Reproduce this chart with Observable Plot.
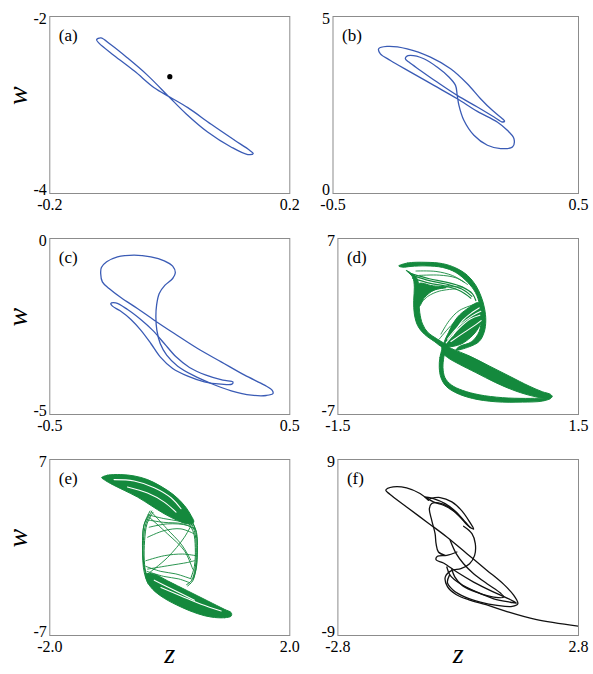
<!DOCTYPE html>
<html><head><meta charset="utf-8">
<script src="https://cdn.jsdelivr.net/npm/d3@7"></script>
<script src="https://cdn.jsdelivr.net/npm/@observablehq/plot@0.6"></script>
<style>
body{margin:0;background:#fff;}
#fig{position:relative;width:593px;height:674px;}
#fig > div{position:absolute;}
#fig svg, #fig svg text{font-family:"Liberation Serif","Times New Roman",Times,serif !important;}
#fig svg{overflow:visible;background:transparent;}
</style></head><body><div id="fig"></div>
<script>
// ---------- tick values and labels ----------
const aXTicks=[-0.2,0.2], aXLabels=["-0.2","0.2"], aYTicks=[-4,-2], aYLabels=["-4","-2"];
const bXTicks=[-0.5,0.5], bXLabels=["-0.5","0.5"], bYTicks=[0,5], bYLabels=["0","5"];
const cXTicks=[-0.5,0.5], cXLabels=["-0.5","0.5"], cYTicks=[-5,0], cYLabels=["-5","0"];
const dXTicks=[-1.5,1.5], dXLabels=["-1.5","1.5"], dYTicks=[-7,7], dYLabels=["-7","7"];
const eXTicks=[-2,2], eXLabels=["-2.0","2.0"], eYTicks=[-7,7], eYLabels=["-7","7"];
const fXTicks=[-2.8,2.8], fXLabels=["-2.8","2.8"], fYTicks=[-9,9], fYLabels=["-9","9"];
const panelTags=["(a)","(b)","(c)","(d)","(e)","(f)"];
const axisNames=["z","w"];

// ---------- (a) periodic orbit + fixed point ----------
const aLoop=[[-0.001,-2.910],[-0.037,-2.665],[-0.071,-2.466],[-0.098,-2.320],[-0.115,-2.241],[-0.122,-2.263],[-0.118,-2.301],[-0.093,-2.440],[-0.059,-2.617],[-0.026,-2.805],[0.000,-2.910],[0.030,-3.030],[0.069,-3.218],[0.108,-3.398],[0.133,-3.511],[0.139,-3.549],[0.130,-3.560],[0.102,-3.474],[0.063,-3.305],[0.027,-3.098]];
const aPoint=[[0.000,-2.68]];

// ---------- (b) ----------
const bLoop=[[-0.314,4.088],[-0.280,4.154],[-0.198,4.088],[-0.103,3.853],[-0.021,3.524],[0.047,3.101],[0.101,2.678],[0.149,2.349],[0.190,2.114],[0.199,2.048],[0.190,2.020],[0.156,2.161],[0.088,2.443],[0.006,2.772],[-0.076,3.148],[-0.144,3.477],[-0.191,3.712],[-0.205,3.806],[-0.201,3.872],[-0.184,3.900],[-0.130,3.806],[-0.076,3.571],[-0.028,3.289],[-0.001,3.054],[0.006,2.772],[0.013,2.490],[0.033,2.067],[0.074,1.644],[0.129,1.362],[0.183,1.268],[0.231,1.315],[0.237,1.550],[0.210,1.785],[0.169,2.020],[0.088,2.321],[0.006,2.678],[-0.089,3.054],[-0.184,3.430],[-0.266,3.759],[-0.307,3.947]];

// ---------- (c) ----------
const cOuter=[[-0.288,-0.994],[-0.281,-1.231],[-0.253,-1.420],[-0.204,-1.676],[-0.135,-1.989],[-0.065,-2.320],[0.019,-2.699],[0.116,-3.125],[0.214,-3.504],[0.312,-3.883],[0.395,-4.167],[0.426,-4.309],[0.430,-4.404],[0.402,-4.460],[0.340,-4.451],[0.256,-4.328],[0.172,-4.119],[0.096,-3.883],[0.033,-3.627],[-0.013,-3.314],[-0.040,-2.983],[-0.054,-2.604],[-0.058,-2.225],[-0.055,-1.894],[-0.044,-1.563],[-0.020,-1.326],[0.012,-1.136],[0.023,-0.975],[0.012,-0.786],[-0.023,-0.634],[-0.079,-0.521],[-0.149,-0.473],[-0.218,-0.521],[-0.263,-0.663],[-0.285,-0.824]];
const cInner=[[-0.246,-1.847],[-0.225,-1.828],[-0.176,-2.017],[-0.121,-2.301],[-0.072,-2.604],[-0.023,-2.983],[0.026,-3.362],[0.082,-3.665],[0.151,-3.883],[0.221,-4.025],[0.263,-4.072],[0.259,-4.138],[0.214,-4.138],[0.144,-4.072],[0.075,-3.911],[0.012,-3.693],[-0.040,-3.362],[-0.079,-2.983],[-0.121,-2.604],[-0.162,-2.301],[-0.207,-2.055],[-0.239,-1.922]];

// ---------- (d) dense bands (outlines) and strands ----------
const dTop=[[-0.742,4.813],[-0.630,5.053],[-0.402,5.107],[-0.195,5.000],[-0.029,4.653],[0.116,4.066],[0.220,3.266],[0.286,2.386],[0.327,1.479],[0.344,0.466],[0.323,-0.468],[0.261,-1.188],[0.137,-1.614],[-0.029,-1.881],[0.013,-1.600],[0.170,-1.200],[0.262,-0.400],[0.285,0.600],[0.268,1.700],[0.215,2.700],[0.120,3.500],[-0.030,4.300],[-0.195,4.700],[-0.402,4.820],[-0.588,4.780],[-0.692,4.720]];
const dMidLines=[
 [[-0.588,4.200],[-0.360,3.800],[-0.153,3.533],[0.054,3.133],[0.178,2.599],[0.220,2.066]],
 [[-0.568,3.850],[-0.360,3.450],[-0.153,3.200],[0.033,2.800],[0.158,2.250]],
 [[-0.560,4.050],[-0.360,3.650],[-0.153,3.380],[0.045,2.980],[0.170,2.400]]];
const dLeft=[[-0.650,4.466],[-0.568,3.933],[-0.547,3.133],[-0.555,2.066],[-0.547,0.999],[-0.505,0.066],[-0.423,-0.601],[-0.298,-1.188],[-0.195,-1.614],[-0.165,-1.450],[-0.270,-0.960],[-0.375,-0.500],[-0.445,0.199],[-0.480,1.133],[-0.492,2.333],[-0.492,3.266],[-0.520,3.880]];
const dFanUp=[[-0.493,3.400],[-0.330,3.250],[-0.150,3.100],[-0.300,2.900],[-0.420,2.300],[-0.485,1.600]];
const dFanLow=[[-0.175,-1.550],[-0.110,-0.334],[-0.010,0.733],[0.110,1.399],[0.250,1.900],[0.290,1.533],[0.290,0.466],[0.230,-0.334],[0.130,-1.001],[0.013,-1.454]];
const dDiag=[[-0.195,-1.454],[-0.070,-1.801],[0.137,-2.335],[0.386,-3.135],[0.634,-3.935],[0.883,-4.735],[1.049,-5.188],[1.152,-5.402],[1.173,-5.588],[1.131,-5.722],[0.966,-5.588],[0.717,-5.135],[0.468,-4.468],[0.220,-3.668],[0.013,-3.001],[-0.132,-2.468],[-0.195,-2.068]];
const dRing=[[-0.195,-1.801],[-0.228,-2.468],[-0.236,-3.268],[-0.215,-4.068],[-0.153,-4.735],[-0.029,-5.268],[0.178,-5.722],[0.468,-5.988],[0.800,-6.015],[1.049,-5.935],[1.152,-5.722],[1.049,-5.700],[0.841,-5.720],[0.551,-5.660],[0.261,-5.430],[0.054,-5.080],[-0.085,-4.650],[-0.165,-4.068],[-0.190,-3.268],[-0.180,-2.468],[-0.170,-2.068]];
const dStrands=[
 [[-0.526,4.413],[-0.278,4.380],[-0.070,4.050],[0.075,3.533]],
 [[-0.485,4.066],[-0.236,4.086],[-0.029,3.873],[0.116,3.346]],
 [[-0.505,2.066],[-0.360,2.733],[-0.153,3.133],[0.054,3.133]],
 [[-0.505,2.466],[-0.319,3.000],[-0.112,3.266]],
 [[-0.493,1.666],[-0.381,2.386],[-0.236,2.813],[-0.029,3.000]],
 [[-0.236,-1.001],[-0.070,0.199],[0.095,0.999],[0.261,1.399]],
 [[-0.215,-0.601],[-0.112,0.466],[0.013,1.266],[0.220,1.799]]];
const dGaps=[
 [[-0.132,-1.001],[0.013,0.066],[0.178,0.866],[0.282,1.213]],
 [[-0.091,-1.188],[0.075,-0.468],[0.220,0.146],[0.286,0.466]],
 [[-0.070,-0.734],[0.054,0.466],[0.178,1.133],[0.261,1.479]],
 [[-0.150,-1.300],[0.000,-0.200],[0.150,0.600],[0.270,0.900]]];

// ---------- (e) ----------
const eTop=[[-1.135,5.560],[-1.040,5.747],[-0.817,5.800],[-0.594,5.693],[-0.371,5.400],[-0.148,4.867],[0.075,4.147],[0.243,3.347],[0.354,2.547],[0.399,2.013],[0.299,1.880],[0.131,2.147],[-0.092,2.680],[-0.315,3.347],[-0.538,4.013],[-0.761,4.547],[-0.985,5.080],[-1.096,5.400]];
const eBot=[[1.024,-5.453],[0.912,-5.587],[0.689,-5.533],[0.466,-5.267],[0.187,-4.733],[-0.092,-4.040],[-0.287,-3.320],[-0.382,-2.653],[-0.399,-2.120],[-0.259,-2.120],[-0.036,-2.653],[0.299,-3.453],[0.633,-4.253],[0.912,-4.920],[1.024,-5.187]];
const eSides=[
 [[-0.300,2.900],[-0.400,1.880],[-0.440,0.547],[-0.450,-1.053],[-0.420,-2.120],[-0.360,-2.900]],
 [[-0.330,2.900],[-0.425,1.880],[-0.455,0.547],[-0.440,-1.053],[-0.400,-2.120],[-0.330,-2.800]],
 [[-0.280,2.800],[-0.380,1.880],[-0.420,0.547],[-0.425,-1.053],[-0.390,-2.120],[-0.310,-2.700]],
 [[-0.350,2.600],[-0.435,1.700],[-0.447,0.200],[-0.435,-1.300],[-0.385,-2.400]],
 [[0.330,2.500],[0.430,1.347],[0.455,0.013],[0.438,-1.587],[0.382,-2.653],[0.299,-3.053]],
 [[0.300,2.400],[0.410,1.347],[0.440,0.013],[0.425,-1.587],[0.360,-2.653],[0.280,-2.950]],
 [[0.350,2.300],[0.445,1.200],[0.460,-0.200],[0.440,-1.700],[0.390,-2.500]],
 [[0.290,2.100],[0.395,1.200],[0.425,0.000],[0.410,-1.500],[0.350,-2.450]]];
const eStrands=[
 [[-0.343,1.613],[-0.036,1.880],[0.299,1.747],[0.438,1.347]],
 [[-0.371,0.813],[-0.092,1.347],[0.187,1.480],[0.410,1.080]],
 [[-0.343,2.413],[-0.036,1.080],[0.243,-0.253],[0.382,-1.720]],
 [[-0.371,-2.120],[-0.036,-0.787],[0.243,0.813],[0.382,2.013]],
 [[-0.399,-1.053],[-0.092,-0.653],[0.215,-0.520],[0.438,-0.653]],
 [[-0.371,-1.720],[-0.036,-1.453],[0.299,-1.187],[0.410,-1.053]],
 [[-0.360,2.600],[-0.100,2.300],[0.150,2.100],[0.380,1.800]],
 [[-0.380,2.200],[-0.100,2.000],[0.200,1.900],[0.420,1.500]],
 [[-0.400,-1.500],[-0.150,-1.900],[0.100,-2.100],[0.360,-2.500]],
 [[-0.380,-1.900],[-0.100,-2.300],[0.150,-2.500],[0.330,-2.800]],
 [[-0.300,2.800],[-0.050,1.500],[0.200,0.200],[0.350,-1.000]]];
const eGaps=[
 [[-0.929,5.400],[-0.594,5.293],[-0.259,4.760],[0.020,3.960],[0.187,3.080]],
 [[-0.706,4.813],[-0.371,4.333],[-0.092,3.613],[0.103,2.813]],
 [[-0.148,-3.187],[0.187,-3.853],[0.522,-4.520],[0.856,-5.053]],
 [[-0.259,-2.600],[0.075,-3.400],[0.410,-4.200]]];

// ---------- (f) ----------
const fPaths=[
 [[-0.694,4.833],[-0.889,5.516],[-1.201,6.097],[-1.513,6.199],[-1.685,5.858],[-1.591,5.448],[-1.201,4.150],[-0.733,2.613],[-0.265,1.076],[0.203,-0.632],[0.671,-2.340],[1.061,-3.774],[1.295,-4.901],[1.388,-5.755],[1.256,-6.029],[0.905,-5.926],[0.515,-5.585],[0.164,-5.072],[-0.109,-4.389],[-0.250,-3.600],[-0.200,-2.800]],
 [[-0.655,5.004],[-0.421,5.106],[-0.148,4.662],[0.086,3.740],[0.265,2.613],[0.359,1.896],[0.218,2.271],[0.008,3.296],[-0.226,4.150],[-0.460,4.560],[-0.616,4.491],[-0.671,3.979],[-0.616,2.784],[-0.538,1.417],[-0.515,0.393],[-0.460,-0.461],[-0.304,-0.803]],
 [[-0.772,5.175],[-0.577,5.004],[-0.304,4.491],[-0.047,3.638],[0.164,2.613],[0.281,2.032],[0.125,2.784],[-0.109,3.740],[-0.343,4.321],[-0.577,4.662],[-0.772,5.175]],
 [[0.125,2.169],[0.320,1.417],[0.398,0.393],[0.382,-0.803],[0.265,-1.657],[0.062,-2.169],[-0.148,-2.340],[-0.300,-3.000],[-0.250,-4.000],[-0.050,-4.800],[0.250,-5.350],[0.650,-5.850],[1.100,-6.500],[1.800,-7.350],[2.800,-8.044]],
 [[-0.031,-0.461],[-0.265,-0.803],[-0.484,-0.905],[-0.515,-1.247],[-0.343,-1.588],[-0.031,-2.511],[0.359,-3.535],[0.827,-4.560],[1.217,-5.345],[1.357,-5.687],[1.217,-5.600],[0.827,-5.243],[0.437,-4.560],[0.047,-3.706],[-0.187,-2.852],[-0.265,-1.998]],
 [[-0.187,0.734],[-0.047,-0.632],[0.125,-1.657],[0.359,-2.681],[0.671,-3.706],[0.983,-4.662],[1.061,-5.072],[0.827,-5.072],[0.437,-4.600],[0.100,-3.900],[-0.080,-3.000],[-0.150,-2.200]]];

// ---------- styling / layout ----------
const BLUE="#3a5bb5", GREEN="#14893d", BLACK="#111";
const FONT="Liberation Serif";
const line=(arr,o)=>Plot.line(arr,{x:d=>d[0],y:d=>d[1],clip:true,strokeLinejoin:"round",...o});
const band=(arr,color)=>line(arr,{fill:color,stroke:color,strokeWidth:1,curve:"catmull-rom-closed"});
const thin=(arr,color,w=1)=>line(arr,{stroke:color,strokeWidth:w,curve:"catmull-rom"});

const panels=[
 {tag:0,left:0,top:0,w:300,h:222,mL:49.3,mR:10.7,mT:16,mB:29,xT:aXTicks,xL:aXLabels,yT:aYTicks,yL:aYLabels,ylab:true,
  marks:[line(aLoop,{stroke:BLUE,strokeWidth:1.3,curve:"catmull-rom-closed"}),
         Plot.dot(aPoint,{x:d=>d[0],y:d=>d[1],r:2.6,fill:"#000",stroke:"none"})]},
 {tag:1,left:300,top:0,w:293,h:222,mL:32.5,mR:15,mT:16,mB:29,xT:bXTicks,xL:bXLabels,yT:bYTicks,yL:bYLabels,
  marks:[line(bLoop,{stroke:BLUE,strokeWidth:1.3,curve:"catmull-rom-closed"})]},
 {tag:2,left:0,top:222,w:300,h:221,mL:49.3,mR:10.7,mT:16,mB:29,xT:cXTicks,xL:cXLabels,yT:cYTicks,yL:cYLabels,ylab:true,
  marks:[line(cOuter,{stroke:BLUE,strokeWidth:1.3,curve:"catmull-rom-closed"}),
         line(cInner,{stroke:BLUE,strokeWidth:1.3,curve:"catmull-rom-closed"})]},
 {tag:3,left:300,top:222,w:293,h:221,mL:37.4,mR:15,mT:16,mB:29,xT:dXTicks,xL:dXLabels,yT:dYTicks,yL:dYLabels,
  marks:[band(dTop,GREEN),band(dLeft,GREEN),band(dFanUp,GREEN),band(dFanLow,GREEN),band(dDiag,GREEN),band(dRing,GREEN),
         ...dMidLines.map(s=>thin(s,GREEN,1.2)),
         ...dStrands.map(s=>thin(s,GREEN,0.9)),
         ...dGaps.map(s=>thin(s,"#fff",1.1))]},
 {tag:4,left:0,top:443,w:300,h:231,mL:49.3,mR:10.7,mT:16,mB:39,xT:eXTicks,xL:eXLabels,yT:eYTicks,yL:eYLabels,ylab:true,xlab:true,
  marks:[band(eTop,GREEN),band(eBot,GREEN),
         ...eSides.map(s=>thin(s,GREEN,1)),
         ...eStrands.map(s=>thin(s,GREEN,0.9)),
         ...eGaps.map(s=>thin(s,"#fff",1.1))]},
 {tag:5,left:300,top:443,w:293,h:231,mL:37.4,mR:15,mT:16,mB:39,xT:fXTicks,xL:fXLabels,yT:fYTicks,yL:fYLabels,xlab:true,
  marks:[...fPaths.map(s=>thin(s,BLACK,1.3))]}
];

const fig=document.getElementById("fig");
for(const p of panels){
  const tx={fontFamily:FONT,fill:"#000"};
  const marks=[
    Plot.frame({stroke:"#8c8c8c",strokeWidth:1}),
    ...p.marks,
    Plot.text(p.xT,{x:d=>d,text:(d,i)=>p.xL[i],frameAnchor:"bottom",lineAnchor:"top",dy:5,fontSize:16,...tx}),
    Plot.text([p.yT[1]],{y:d=>d,text:()=>p.yL[1],frameAnchor:"left",textAnchor:"end",dx:-3,dy:2,fontSize:16,...tx}),
    Plot.text([p.yT[0]],{y:d=>d,text:()=>p.yL[0],frameAnchor:"left",textAnchor:"end",dx:-3,dy:-4,fontSize:16,...tx}),
    Plot.text([panelTags[p.tag]],{text:d=>d,frameAnchor:"top-left",textAnchor:"start",lineAnchor:"top",dx:9,dy:12,fontSize:17,...tx})
  ];
  if(p.ylab) marks.push(Plot.text([axisNames[1]],{text:d=>d,frameAnchor:"left",rotate:-90,dx:-32,fontSize:28,fontStyle:"italic",...tx}));
  if(p.xlab) marks.push(Plot.text([axisNames[0]],{text:d=>d,frameAnchor:"bottom",dy:27,fontSize:28,fontStyle:"italic",...tx}));
  const svg=Plot.plot({
    width:p.w,height:p.h,marginLeft:p.mL,marginRight:p.mR,marginTop:p.mT,marginBottom:p.mB,
    x:{domain:[p.xT[0],p.xT[1]],axis:null},
    y:{domain:[p.yT[0],p.yT[1]],axis:null},
    style:"background:transparent;overflow:visible;color:#000;",
    marks
  });
  const holder=document.createElement("div");
  holder.style.left=p.left+"px";holder.style.top=p.top+"px";holder.style.width=p.w+"px";holder.style.height=p.h+"px";
  holder.appendChild(svg);
  fig.appendChild(holder);
}
</script>
</body></html>
